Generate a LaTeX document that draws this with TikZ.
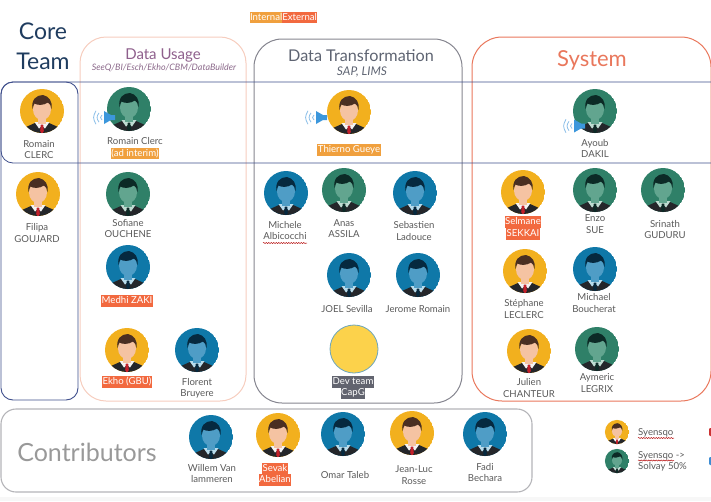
\documentclass[tikz,border=0pt]{standalone}
\usepackage{fontspec}
\setmainfont{Lato}
\usetikzlibrary{decorations.pathmorphing}
\definecolor{corecol}{HTML}{3F4F8C}
\definecolor{titlecol}{HTML}{1F3C5F}
\definecolor{usagecol}{HTML}{F6CDBE}
\definecolor{usagetext}{HTML}{8E5F8C}
\definecolor{transcol}{HTML}{85858F}
\definecolor{transtext}{HTML}{5E6472}
\definecolor{systemcol}{HTML}{E9775C}
\definecolor{contribcol}{HTML}{B4B4B8}
\definecolor{internalcol}{HTML}{F0A03E}
\definecolor{externalcol}{HTML}{F2693F}
\definecolor{devcol}{HTML}{62646F}
\definecolor{speakercol}{HTML}{3C97DC}
\definecolor{wavecol}{HTML}{8CBFE8}
\definecolor{suitcol}{HTML}{24262A}
\definecolor{yelbg}{HTML}{F2B01E}
\definecolor{yelface}{HTML}{F5C3A2}
\definecolor{yelhair}{HTML}{4A2F22}
\definecolor{yeltie}{HTML}{C3202A}
\definecolor{yelshirt}{HTML}{F4F4F4}
\definecolor{grnbg}{HTML}{2F8068}
\definecolor{grnface}{HTML}{62A58F}
\definecolor{grnhair}{HTML}{0C2A26}
\definecolor{grntie}{HTML}{0C2A26}
\definecolor{grnshirt}{HTML}{BFDCD2}
\definecolor{blubg}{HTML}{0F78A8}
\definecolor{bluface}{HTML}{4F9DC6}
\definecolor{bluhair}{HTML}{06293F}
\definecolor{blutie}{HTML}{06293F}
\definecolor{blushirt}{HTML}{B8DCEC}
\setlength{\fboxsep}{0.5pt}
\setlength{\lineskiplimit}{-6pt}
\newcommand{\hlstrut}{\rule[-2.8pt]{0pt}{10.8pt}}
\newcommand{\hlint}[1]{\colorbox{internalcol}{\hlstrut\textcolor{white}{#1}}}
\newcommand{\hlext}[1]{\colorbox{externalcol}{\hlstrut\textcolor{white}{#1}}}
\newcommand{\hldev}[1]{\colorbox{devcol}{\hlstrut\textcolor{white}{#1}}}
\tikzset{
    who/.style={font=\fontsize{9.6}{11.5}\selectfont,text=black!65,align=center,inner sep=0pt},
    head/.style={inner sep=0pt,align=center},
    wavy/.style={draw=red!70!black,line width=.5pt,decorate,decoration={snake,amplitude=.5pt,segment length=2.5pt}},
    avatar/.pic={
        \begin{scope}
        \clip (0,0) circle (22);
        \fill[#1bg] (0,0) circle (22);
        \fill[suitcol] (-20,23) -- (-16,16) -- (-6,11.5) -- (6,11.5) -- (16,16) -- (20,23) -- cycle;
        \fill[#1shirt] (-7.5,11) -- (7.5,11) -- (3,17.5) -- (0,14.5) -- (-3,17.5) -- cycle;
        \fill[#1tie] (-1.2,13.5) -- (1.2,13.5) -- (1.8,20) -- (0,23) -- (-1.8,20) -- cycle;
        \fill[#1face] (-4,3) rectangle (4,13);
        \fill[#1face] (0,-1.5) ellipse [x radius=9,y radius=10.5];
        \fill[#1hair] (-9.5,-2) .. controls (-11,-11) and (-6,-16) .. (1,-16)
            .. controls (7,-15) and (11,-9) .. (9.5,-2)
            .. controls (9,-5) and (8,-7.5) .. (6,-8.5)
            .. controls (2,-5.5) and (-5,-5.5) .. (-7.5,-7.5)
            .. controls (-8.5,-6) and (-9,-4) .. (-9.5,-2) -- cycle;
        \end{scope}
    },
    speaker/.pic={
        \fill[speakercol] (-6,-6.5) -- (-6,6.5) -- (1,2.5) -- (5,2.5) -- (5,-2.5) -- (1,-2.5) -- cycle;
        \foreach \d in {0,3,6}
            \draw[wavecol,line width=.8pt] (-8-\d,-2.5-.7*\d) .. controls (-10-1.2*\d,-1) and (-10-1.2*\d,1) .. (-8-\d,2.5+.7*\d);
    }
}
\begin{document}
\begin{tikzpicture}[x=1pt,y=-1pt]
\useasboundingbox (0,0) rectangle (711,501);
\fill[black!3] (0,497) rectangle (711,501);
% panels
\draw[usagecol,line width=1pt,rounded corners=26] (80,37) rectangle (246,401);
\draw[transcol,line width=1pt,rounded corners=28] (254,39) rectangle (462,403);
\draw[systemcol,line width=1pt,rounded corners=30] (472,37) rectangle (711,401);
\draw[corecol,line width=.9pt,rounded corners=12] (1,82) rectangle (78,400);
\draw[corecol,line width=.8pt,rounded corners=12] (711,82) -- (1,82) -- (1,163) -- (711,163);
\draw[contribcol,line width=1.1pt,rounded corners=15] (1,409) rectangle (532,492);
% titles
\node[head,text=titlecol,font=\fontsize{23}{30}\selectfont] (coreteam) at (43,46) {Core\\Team};
\node[head,text=usagetext,font=\fontsize{15}{18}\selectfont] (usage) at (163,55) {Data Usage};
\node[head,text=usagetext!75!gray,font=\itshape\fontsize{8.9}{10}\selectfont] (usagesub) at (164,68) {SeeQ/BI/Esch/Ekho/CBM/DataBuilder};
\node[head,text=transtext,font=\fontsize{16.2}{18}\selectfont] (trans) at (361,56) {Data Transformation};
\node[head,text=transtext,font=\itshape\fontsize{12}{14}\selectfont] (transsub) at (362,72) {SAP, LIMS};
\node[head,text=systemcol,font=\fontsize{22}{26}\selectfont] (system) at (592,60) {System};
\node[head,text=black!40,font=\fontsize{25}{30}\selectfont] (contrib) at (87,452) {Contributors};
\node[head,font=\fontsize{9.6}{11}\selectfont] (kind) at (283.5,17.5) {\hlint{Internal}\hspace{-1pt}\hlext{External}};
% people
\foreach \x/\y/\t in {42/111/yel,38/194/yel,129/109/grn,128/194/grn,128/267/blu,127/350/yel,197/350/blu,
    349/112/yel,286/193/blu,344/190/grn,415/193/blu,349/275/blu,418/275/blu,
    595/111/grn,523/192/yel,595/190/grn,663/190/grn,525/271/yel,595/269/blu,529/351/yel,597/349/grn,
    211/437/blu,278/435/yel,343/434/blu,412/433/yel,485/434/blu}
    {
    \pic at (\x,\y) {avatar=\t};
    }
\pic[scale=.55] at (617,432) {avatar=yel};
\pic[scale=.55] at (617,461) {avatar=grn};
\pic at (110,117.5) {speaker};
\pic at (322,117.5) {speaker};
\pic at (580,126) {speaker};
\draw[cyan!45!gray,line width=.8pt,fill=yellow!55!orange!70!white] (354,349) circle (24);
% names
\foreach \x/\y/\n [count=\i] in {39/149.5/{Romain\\CLERC},37/233/{Filipa\\GOUJARD},135/148.5/{Romain Clerc\\\hlint{(ad interim)}},
    128/228.5/{Sofiane\\OUCHENE},127/301/{\hlext{Medhi ZAKI}},127/382/{\hlext{Ekho (GBU)}},197/388.5/{Florent\\Bruyere},
    349/150/{\hlint{Thierno Gueye}},285/230.5/{Michele\\Albicocchi},344/228.5/{Anas\\ASSILA},414/231/{Sebastien\\Ladouce},
    347/309/{JOEL Sevilla},418/309/{Jerome Romain},353/387.5/{\hldev{Dev team}\\\hldev{CapG}},
    595/148.5/{Ayoub\\DAKIL},523/228/{\hlext{Selmane}\\\hlext{SEKKAI}},595/224/{Enzo\\SUE},665/229.5/{Srinath\\GUDURU},
    524/309/{Stéphane\\LECLERC},594/303/{Michael\\Boucherat},529/388/{Julien\\CHANTEUR},597/383/{Aymeric\\LEGRIX},
    212/473.5/{Willem Van\\lammeren},275/474.5/{\hlext{Sevak}\\\hlext{Abelian}},345/475/{Omar Taleb},414/475/{Jean-Luc\\Rosse},485/472.5/{Fadi\\Bechara}}
    {
    \node[who] (who\i) at (\x,\y) {\n};
    }
\node[who,anchor=west] (legendone) at (638,433) {Syensqo};
\node[who,anchor=west,align=left,font=\fontsize{9.6}{10.5}\selectfont] (legendtwo) at (638,461.5) {Syensqo ->\\Solvay 50\%};
\draw[wavy] (263,243) -- (307,243);
\draw[wavy] (638,438) -- (674,438);
\draw[wavy] (638,460.5) -- (674,460.5);
% cut off at the page edge
\fill[red!75!black!80,rounded corners=1pt] (709,428) rectangle (713,436);
\fill[cyan!60!blue!80,rounded corners=1pt] (709,457) rectangle (713,465);
\end{tikzpicture}
\end{document}
